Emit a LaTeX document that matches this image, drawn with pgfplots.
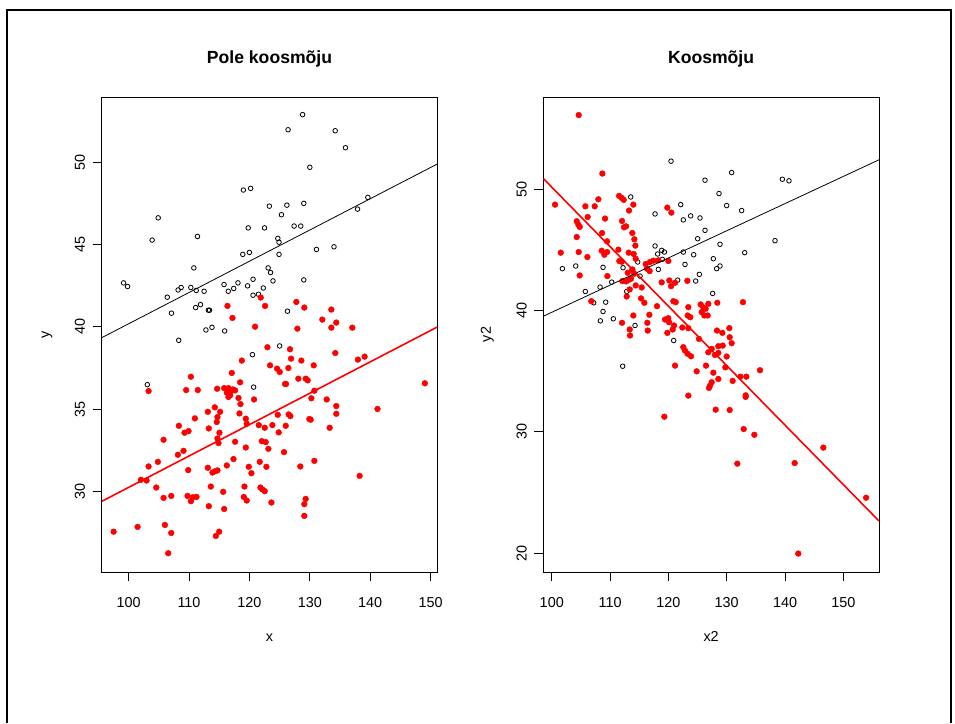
\documentclass[border=0pt]{standalone}
\usepackage{fontspec}
\setmainfont{Liberation Sans}
\usepackage{pgfplots}
\pgfplotsset{compat=1.18}

\pgfplotsset{
  rpanel/.style={
    scale only axis, width=335.6pt, height=475pt,
    anchor=south west,
    axis line style={line width=0.75pt},
    every tick/.style={black, line width=0.75pt},
    major tick length=9pt, tick align=outside,
    xtick pos=bottom, ytick pos=left,
    xtick={100,110,120,130,140,150},
    /pgf/number format/assume math mode=true,
    ticklabel style={font=\fontsize{14.4}{17}\selectfont},
    xticklabel style={anchor=base}, xticklabel shift=26.4pt,
    yticklabel style={rotate=90, anchor=base}, yticklabel shift=7.7pt,
    title style={at={(axis description cs:0.5,1.0581)}, anchor=base,
      font=\fontsize{17.6}{20}\selectfont\bfseries},
    xlabel style={at={(axis description cs:0.5,-0.1457)}, anchor=base,
      font=\fontsize{14.4}{17}\selectfont},
    ylabel style={at={(axis description cs:-0.1561,0.5)}, anchor=base,
      font=\fontsize{14.4}{17}\selectfont},
    clip mode=individual,
  },
  blackpts/.style={only marks, mark=o, mark size=2.3pt,
    mark options={line width=0.8pt, draw=black}},
  redpts/.style={only marks, mark=*, mark size=2.9pt,
    mark options={draw=red, fill=red}},
}

\begin{document}
\begin{tikzpicture}[x=1pt, y=1pt]
\useasboundingbox (0,0) rectangle (955,723);
\draw[line width=2pt] (7.3,0) -- (7.3,713) -- (951,713) -- (951,0);

\begin{axis}[rpanel, at={(101.7pt,151pt)},
  xmin=95.55, xmax=151.1, ymin=25.1, ymax=53.95,
  ytick={30,35,40,45,50},
  title={Pole koosmõju}, xlabel={x}, ylabel={y}]
\addplot[blackpts] table {
x y
128.8 52.88
126.4 51.96
134.2 51.90
135.9 50.87
130.0 49.68
119.0 48.30
120.2 48.40
104.9 46.61
123.3 47.32
126.2 47.38
129.0 47.49
125.3 46.80
139.6 47.85
137.9 47.14
103.9 45.26
111.4 45.48
119.8 46.00
122.5 46.00
127.4 46.11
128.5 46.11
124.7 45.36
124.9 45.13
118.9 44.39
120.0 44.51
124.9 44.39
131.1 44.69
134.0 44.85
99.17 42.66
99.83 42.44
110.8 43.57
106.4 41.79
108.2 42.23
108.7 42.38
110.3 42.38
111.2 42.20
112.5 42.15
115.8 42.56
116.5 42.15
117.4 42.32
118.1 42.66
119.7 42.48
120.6 42.88
122.3 42.35
123.1 43.57
123.5 43.29
123.9 42.78
120.6 41.91
121.5 41.97
129.0 42.84
107.1 40.82
111.1 41.16
111.9 41.34
113.2 41.00
113.4 41.00
108.3 39.17
112.8 39.80
113.8 39.96
115.9 39.74
126.3 40.94
125.0 38.83
120.5 38.30
103.1 36.48
120.7 36.33
};
\addplot[redpts] table {
x y
121.88 41.77
122.59 41.26
116.37 41.26
117.19 40.53
120.94 40.00
127.77 41.50
129.09 41.16
132.07 40.43
133.56 41.04
134.38 40.25
133.56 39.94
137.03 39.94
127.94 39.88
122.98 38.75
126.72 38.63
126.89 38.06
128.60 37.94
130.64 37.65
134.22 38.40
137.96 38.00
139.07 38.18
118.74 37.94
123.42 37.65
124.58 37.45
125.02 37.25
126.45 37.49
117.08 37.19
110.31 36.96
118.46 36.62
125.90 36.52
126.06 36.52
128.10 36.84
129.31 36.84
129.65 36.74
103.31 36.09
109.53 36.15
111.46 36.15
114.66 36.23
115.82 36.27
116.53 36.27
117.25 36.19
117.63 36.13
116.26 35.99
116.81 35.83
116.92 36.07
116.53 35.73
118.19 35.67
118.52 35.30
120.77 35.58
130.75 36.11
130.25 35.65
132.79 35.58
134.38 35.18
149.04 36.56
114.27 35.10
141.20 35.00
113.12 34.83
115.15 34.83
118.35 34.73
124.69 34.65
126.50 34.67
126.78 34.57
134.38 34.71
110.97 34.43
114.71 34.51
114.60 34.21
119.40 34.41
119.56 34.10
108.32 33.98
113.28 33.82
115.04 33.56
121.55 34.02
122.54 33.86
123.80 34.02
126.01 33.98
129.92 34.39
130.14 34.35
133.28 33.86
124.85 33.58
109.26 33.56
109.92 33.66
105.79 33.13
114.71 33.21
114.88 32.93
117.63 33.01
122.04 33.05
122.70 32.99
119.40 32.66
123.14 32.58
108.16 32.22
109.09 32.46
125.73 32.38
103.31 31.51
104.85 31.79
109.87 31.29
113.12 31.43
113.89 31.14
114.33 31.22
114.71 31.27
116.26 31.57
117.36 31.96
119.89 31.49
120.33 31.10
121.71 31.79
122.81 31.49
128.43 31.51
130.75 31.85
138.24 30.94
102.04 30.70
102.98 30.66
104.58 30.23
105.79 29.60
107.06 29.72
109.76 29.72
110.31 29.40
110.64 29.64
111.24 29.66
113.61 30.29
115.65 29.97
113.28 29.10
115.82 28.93
119.18 30.29
119.07 29.66
119.56 29.44
121.82 30.23
122.15 30.11
122.54 30.01
123.64 29.32
129.31 29.54
129.09 29.22
129.09 28.51
97.52 27.55
101.49 27.84
106.01 27.96
107.06 27.47
106.56 26.24
114.44 27.29
114.99 27.55
};
\addplot[black, line width=0.8pt] coordinates {(95.55,39.33) (151.1,49.88)};
\addplot[red, line width=1.6pt] coordinates {(95.55,29.39) (151.1,39.98)};
\end{axis}

\begin{axis}[rpanel, at={(543.3pt,151pt)},
  xmin=98.55, xmax=156.1, ymin=18.45, ymax=57.6,
  ytick={20,30,40,50},
  title={Koosmõju}, xlabel={x2}, ylabel={y2}]
\addplot[blackpts] table {
x y
120.45 52.31
126.28 50.74
130.85 51.37
139.54 50.82
140.68 50.69
128.68 49.64
129.99 48.65
132.56 48.24
122.11 48.73
117.71 47.96
122.56 47.47
123.82 47.80
125.42 47.63
126.28 46.61
125.02 45.92
128.85 45.46
138.28 45.76
133.08 44.77
122.56 44.82
124.34 44.60
127.71 44.27
122.85 43.80
128.85 43.67
128.28 43.45
117.71 45.32
118.85 44.96
119.31 44.82
118.16 44.66
118.96 44.22
113.54 49.36
114.74 44.00
101.82 43.45
104.11 43.67
108.79 43.56
112.22 43.53
118.28 43.39
125.31 42.98
124.68 42.43
121.59 42.51
115.14 42.84
110.28 42.34
108.28 41.93
105.76 41.57
107.19 40.64
109.25 40.69
108.79 39.92
108.34 39.15
110.56 39.32
114.28 38.77
112.85 41.57
120.91 37.53
112.16 35.41
127.59 41.41
};
\addplot[redpts] table {
x y
104.62 56.11
108.68 51.29
100.56 48.73
105.76 48.59
107.36 48.59
107.99 49.17
111.54 49.45
112.00 49.28
112.34 49.12
113.99 48.73
113.25 48.24
106.16 47.71
109.14 47.58
104.28 47.36
104.56 47.08
104.79 46.89
112.05 47.38
112.39 46.86
112.74 46.94
108.62 46.39
104.28 46.06
113.82 46.39
114.16 45.87
109.48 45.70
114.34 45.35
119.82 48.48
120.51 48.07
101.54 44.77
104.62 44.82
106.11 44.41
108.56 44.93
109.02 44.60
109.48 44.82
111.42 45.02
113.19 44.77
114.05 44.66
114.39 44.27
111.59 44.08
112.00 44.02
113.82 43.39
116.11 43.83
116.85 44.00
117.42 44.11
118.28 44.14
120.00 44.08
116.34 43.45
104.79 42.89
109.54 42.84
113.82 43.33
113.02 43.11
114.16 43.03
112.11 42.43
112.74 42.40
113.14 42.51
113.59 42.62
114.39 42.07
115.42 41.90
113.36 41.74
112.85 41.16
116.79 43.25
118.85 42.32
120.16 42.48
120.45 42.01
121.14 42.29
123.25 42.45
106.79 40.77
115.31 41.00
115.88 40.64
118.05 40.36
120.85 40.77
121.25 40.69
123.42 40.28
125.54 40.50
126.00 40.25
126.85 40.55
126.39 40.14
125.71 39.87
126.16 39.59
126.74 39.59
128.39 40.64
132.79 40.69
113.99 39.59
116.74 39.65
112.05 38.99
113.36 38.44
113.42 37.94
116.39 38.99
116.45 38.35
119.42 39.26
119.99 39.37
120.11 39.04
120.96 38.77
120.74 38.44
119.82 38.16
122.39 38.60
123.31 39.59
123.76 39.45
123.42 38.55
125.25 37.66
128.33 38.35
129.25 38.16
130.45 38.55
130.51 37.80
130.85 37.31
122.56 36.98
122.85 36.70
123.31 36.43
123.88 36.23
126.85 36.56
127.42 36.84
128.56 37.06
129.31 37.11
127.99 36.34
128.56 36.51
129.99 36.21
121.14 35.46
126.45 35.46
124.85 34.99
127.71 34.88
129.77 35.32
135.71 35.08
132.34 34.55
133.36 34.55
128.56 34.36
131.02 34.20
127.42 34.09
127.14 33.81
126.96 33.62
133.25 33.01
133.25 32.88
123.42 32.99
128.11 31.83
130.51 31.80
119.31 31.25
132.91 30.23
134.74 29.76
131.82 27.38
141.65 27.43
146.57 28.70
142.28 19.97
153.90 24.57
};
\addplot[black, line width=0.8pt] coordinates {(98.55,39.53) (156.1,52.42)};
\addplot[red, line width=1.6pt] coordinates {(98.55,50.88) (156.1,22.66)};
\end{axis}
\end{tikzpicture}
\end{document}
